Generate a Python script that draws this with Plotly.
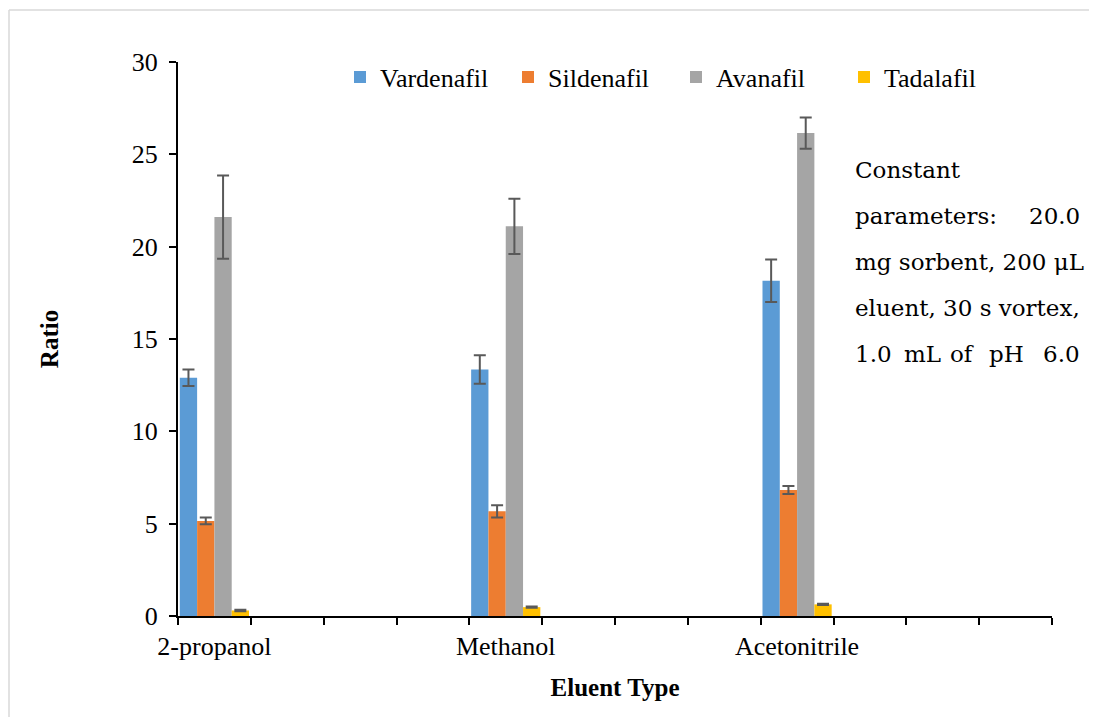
import plotly.graph_objects as go

categories = ["2-propanol", " ", "  ", "   ", "Methanol", "    ", "     ", "      ",
              "Acetonitrile", "       ", "        ", "         "]
groups = ["2-propanol", "Methanol", "Acetonitrile"]
series = ["Vardenafil", "Sildenafil", "Avanafil", "Tadalafil"]
values = {
    "Vardenafil": [12.9, 13.35, 18.15],
    "Sildenafil": [5.15, 5.67, 6.82],
    "Avanafil": [21.6, 21.1, 26.15],
    "Tadalafil": [0.3, 0.48, 0.63],
}
errors = {
    "Vardenafil": [0.45, 0.77, 1.15],
    "Sildenafil": [0.18, 0.33, 0.22],
    "Avanafil": [2.25, 1.5, 0.85],
    "Tadalafil": [0.04, 0.04, 0.04],
}
colors = {"Vardenafil": "#5B9BD5", "Sildenafil": "#ED7D31",
          "Avanafil": "#A5A5A5", "Tadalafil": "#FFC000"}
yticks = [0, 5, 10, 15, 20, 25, 30]

serif = "Liberation Serif"
fig = go.Figure()
for s in series:
    fig.add_trace(go.Bar(
        name=s, x=groups, y=values[s],
        marker=dict(color=colors[s], line=dict(width=0)),
        error_y=dict(type="data", array=errors[s], color="#595959",
                     thickness=2, width=6),
    ))

fig.update_layout(
    width=1089, height=709,
    margin=dict(l=170, r=45, t=54, b=101, autoexpand=False),
    paper_bgcolor="white", plot_bgcolor="white",
    barmode="group", bargap=0.05, bargroupgap=0,
    font=dict(family=serif, size=26, color="black"),
    showlegend=True,
    legend=dict(orientation="h", x=(356 - 16 - 178) / 874, y=(616 - 77) / 554,
                xanchor="left", yanchor="middle",
                font=dict(family=serif, size=26), bgcolor="rgba(0,0,0,0)",
                entrywidth=123, itemwidth=30, traceorder="normal"),
    xaxis=dict(type="category", categoryorder="array", categoryarray=categories,
               range=[-0.5, 11.5], tickson="boundaries", ticks="outside",
               ticklen=7, tickwidth=2, tickcolor="black", tickangle=0,
               ticklabelstandoff=6,
               showline=True, linecolor="black", linewidth=2,
               showgrid=False, zeroline=False, automargin=False,
               tickfont=dict(family=serif, size=26),
               title=dict(text="<b>Eluent Type</b>", font=dict(family=serif, size=25),
                          standoff=18)),
    yaxis=dict(range=[0, 30], tickvals=yticks, ticks="outside", ticklen=7,
               tickwidth=2, tickcolor="black", showline=True, linecolor="black",
               linewidth=2, showgrid=False, zeroline=False, automargin=False,
               ticklabelstandoff=6,
               tickfont=dict(family=serif, size=26),
               title=dict(text="<b>Ratio</b>", font=dict(family=serif, size=25),
                          standoff=66)),
)

def px(xpix):
    return (xpix - 178) / 874

def py(ypix):
    return (616 - ypix) / 554

fig.add_shape(type="line", xref="paper", yref="paper", x0=px(9), x1=px(1095),
              y0=py(10), y1=py(10), line=dict(color="#D9D9D9", width=1.5))
fig.add_shape(type="line", xref="paper", yref="paper", x0=px(9), x1=px(9),
              y0=py(10), y1=py(720), line=dict(color="#D9D9D9", width=1.5))

tfont = dict(family="DejaVu Serif", size=23, color="black")
def ann(text, x, y, anchor="left"):
    fig.add_annotation(text=text, x=x, y=y, xref="paper", yref="paper",
                       xanchor=anchor, yanchor="middle", showarrow=False, font=tfont)

ann("Constant", px(853), py(170))
ann("parameters:", px(853), py(216))
ann("20.0", px(1082), py(216), "right")
ann("mg sorbent, 200 μL", px(853), py(262))
ann("eluent, 30 s vortex,", px(853), py(308))
for w, xp, a in [("1.0", 853, "left"), ("mL", 922, "center"), ("of", 962, "center"),
                 ("pH", 1006, "center"), ("6.0", 1082, "right")]:
    ann(w, px(xp), py(354), a)

fig.write_html("out.html")
